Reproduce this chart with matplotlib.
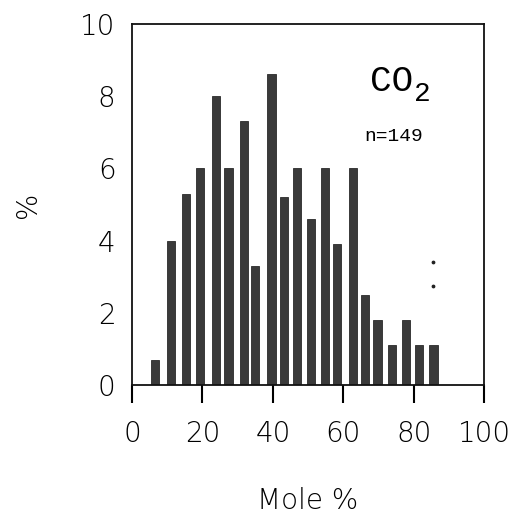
import matplotlib
matplotlib.use("Agg")
import matplotlib.pyplot as plt

# bin centres (Mole %) and bar heights (% of samples)
mole_pct = [6.6, 11.0, 15.3, 19.4, 23.8, 27.4, 31.7, 34.8, 39.6, 43.1, 46.9,
            50.7, 54.7, 58.3, 62.7, 66.1, 69.7, 73.7, 77.8, 81.6, 85.6]
freq_pct = [0.7, 4.0, 5.3, 6.0, 8.0, 6.0, 7.3, 3.3, 8.6, 5.2, 6.0,
            4.6, 6.0, 3.9, 6.0, 2.5, 1.8, 1.1, 1.8, 1.1, 1.1]

x_ticks = [0, 20, 40, 60, 80, 100]
y_ticks = [0, 2, 4, 6, 8, 10]

# stray specks on the scan
speck_x = [85.5, 85.5]
speck_y = [3.4, 2.75]

fig = plt.figure(figsize=(5.24, 5.29), dpi=100)
ax = fig.add_axes([0.252, 0.272, 0.672, 0.683])

ax.bar(mole_pct, freq_pct, width=2.3, color="#3a3a3a", edgecolor="#2a2a2a",
       linewidth=0.6)
ax.scatter(speck_x, speck_y, s=3, color="#222222")

ax.set_xlim(0, 100)
ax.set_ylim(0, 10)
ax.set_xticks(x_ticks)
ax.set_yticks(y_ticks)

lbl = dict(fontsize=20, fontweight="light", family="DejaVu Sans")
ax.set_xticklabels([str(t) for t in x_ticks], **lbl)
ax.set_yticklabels([str(t) for t in y_ticks], **lbl)
ax.tick_params(axis="x", direction="out", length=13, width=1.5, pad=12)
ax.tick_params(axis="y", length=0, pad=12)

for s in ax.spines.values():
    s.set_linewidth(1.3)
    s.set_color("#111111")

ax.set_xlabel("Mole %", fontsize=20, fontweight="light", labelpad=28)
fig.text(28 / 524, 1 - 205 / 529, "%", fontsize=20, fontweight="light",
         rotation=90, ha="center", va="center")

ax.text(0.675, 0.84, "CO", transform=ax.transAxes, fontsize=26,
        family="Liberation Mono", va="center")
ax.text(0.80, 0.805, "2", transform=ax.transAxes, fontsize=20,
        family="Liberation Mono", va="center")
ax.text(0.66, 0.688, "n=149", transform=ax.transAxes, fontsize=14,
        family="Liberation Mono", va="center")

fig.savefig("out.png", dpi=100)
